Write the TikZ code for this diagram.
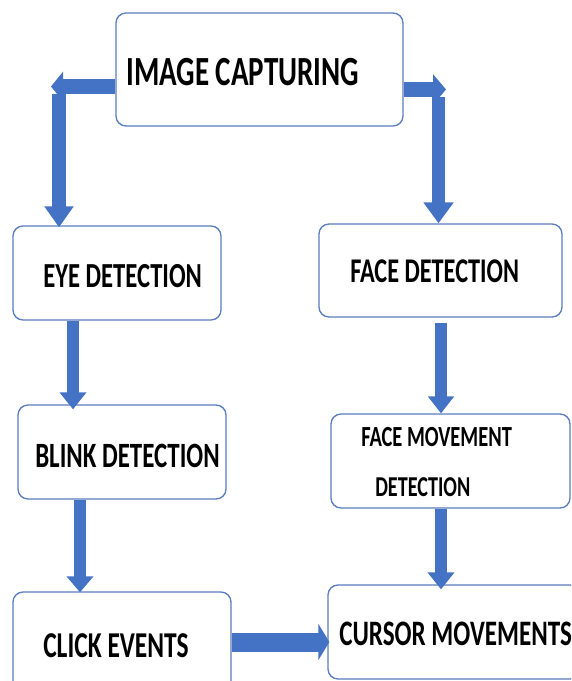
\documentclass[tikz,border=0pt]{standalone}
\usepackage{fontspec}
\newfontfamily\cf{Carlito}[FakeStretch=0.7]
\usetikzlibrary{arrows.meta}
\definecolor{boxblue}{HTML}{5A7DC0}
\definecolor{arrblue}{HTML}{4472C4}
\begin{document}
\begin{tikzpicture}[x=0.75pt,y=-0.75pt,
  box/.style={draw=boxblue, line width=1pt, rounded corners=7.5pt, fill=white, inner sep=0pt},
  txt/.style={inner sep=0pt, anchor=base west, font=\cf\bfseries\fontsize{#1}{#1}\selectfont},
  fat/.style n args={3}{draw=arrblue, line width=#1, -{Triangle[length=#2, width=#3]}}]
\useasboundingbox (0,0) rectangle (571,681);
\clip (0,0) rectangle (571,681);
% boxes
\node[box, minimum width=215.25pt, minimum height=84.75pt] (top) at (259.5,69.5) {};
\node[box, minimum width=156pt, minimum height=70.5pt] (eye) at (117,273) {};
\node[box, minimum width=182.25pt, minimum height=69.75pt] (face) at (440.5,270.5) {};
\node[box, minimum width=156pt, minimum height=70.5pt] (blink) at (122,452) {};
\node[box, minimum width=179.25pt, minimum height=70.5pt] (fm) at (450.5,461) {};
\node[box, minimum width=163.5pt, minimum height=75pt] (click) at (122,642) {};
\node[box, minimum width=189pt, minimum height=70.5pt] (cursor) at (454,632) {};
% texts
\node[txt=31.1pt] (ttop) at (126,86) {IMAGE CAPTURING};
\node[txt=26.4pt] (teye) at (43,287) {EYE DETECTION};
\node[txt=26pt] (tface) at (350,282) {FACE DETECTION};
\node[txt=26.7pt] (tblink) at (35,467) {BLINK DETECTION};
\node[txt=21.9pt] (tfm1) at (361,446) {FACE MOVEMENT};
\node[txt=21.6pt] (tfm2) at (375,496) {DETECTION};
\node[txt=27.3pt] (tclick) at (43,657) {CLICK EVENTS};
\node[txt=26.9pt] (tcursor) at (339,645) {CURSOR MOVEMENTS};
% helper coordinates
\coordinate (a1) at (51,86.5);
\coordinate (a2) at (59,94);
\coordinate (a3) at (446,89.5);
\coordinate (a4) at (438.5,97);
\coordinate (a5) at (73,0);
\coordinate (a6) at (441,0);
\coordinate (a7) at (80,0);
% arrows
\draw[fat={11.25pt}{9pt}{21.75pt}] (top.west |- a1) -- (a1);
\draw[fat={10.5pt}{15.75pt}{21pt}] (a2) -- ([yshift=-1.5pt]eye.north -| a2);
\draw[fat={11.25pt}{9.75pt}{22.5pt}] (top.east |- a3) -- (a3);
\draw[fat={9.75pt}{15.75pt}{21.75pt}] (a4) -- (face.north -| a4);
\draw[fat={9pt}{12.75pt}{19.5pt}] (eye.south -| a5) -- ([yshift=-3.75pt]blink.north -| a5);
\draw[fat={9pt}{12.75pt}{19pt}] ([yshift=-3.75pt]face.south -| a6) -- (fm.north -| a6);
\draw[fat={9pt}{12pt}{19.5pt}] (blink.south -| a7) -- ([yshift=-0.75pt]click.north -| a7);
\draw[fat={9pt}{12.75pt}{19.5pt}] (fm.south -| a6) -- ([yshift=-3.75pt]cursor.north -| a6);
\draw[fat={14.25pt}{8.25pt}{27pt}] (click.east) -- ([xshift=1.5pt]cursor.west |- click.east);
\end{tikzpicture}
\end{document}
